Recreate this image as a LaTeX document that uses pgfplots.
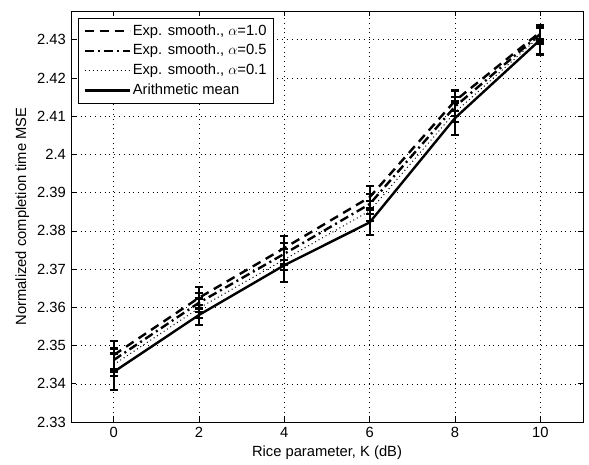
\documentclass[border=0pt]{standalone}
\usepackage{pgfplots}
\pgfplotsset{compat=1.18}
\usepackage{fontspec}
\setmainfont{Liberation Sans}
\begin{document}
\fontsize{14.8}{17}\selectfont
\begin{tikzpicture}
\begin{axis}[
  at={(0,0)}, anchor=south west,
  scale only axis, width=512bp, height=411bp,
  xmin=-1, xmax=11, ymin=2.33, ymax=2.4375,
  xtick={0,2,4,6,8,10},
  ytick={2.33,2.34,2.35,2.36,2.37,2.38,2.39,2.40,2.41,2.42,2.43},
  yticklabels={2.33,2.34,2.35,2.36,2.37,2.38,2.39,2.4,2.41,2.42,2.43},
  /pgf/number format/assume math mode=true,
  tick align=inside, tick pos=both,
  major tick length=5bp,
  every tick/.style={black, line width=0.6bp},
  axis line style={line width=0.8bp},
  grid=major,
  major grid style={black, line width=0.5bp, dash pattern=on 0.8bp off 4bp},
  xlabel={Rice parameter, K (dB)},
  ylabel={Normalized completion time MSE},
  xlabel style={yshift=2bp},
  ylabel style={yshift=-2bp},
  legend cell align=left,
  legend style={at={(0,1)}, anchor=north west, xshift=7bp, yshift=-7bp,
    draw=black, line width=0.8bp, inner xsep=5bp, inner ysep=4bp, row sep=3bp,
    font=\fontsize{14.8}{17}\selectfont},
  legend image code/.code={\draw[#1] (0bp,0bp) -- (45bp,0bp);},
  error bars/error bar style={solid, line width=2.2bp},
  error bars/error mark options={rotate=90, mark size=4bp, line width=2.2bp, solid},
]
\addplot[black, line width=2.4bp, dash pattern=on 9bp off 6bp,
  error bars/.cd, y dir=both, y explicit]
  coordinates {
  (0,2.3475) +- (0,0.0037)
  (2,2.3625) +- (0,0.0028)
  (4,2.3755) +- (0,0.0031)
  (6,2.3888) +- (0,0.0029)
  (8,2.4140) +- (0,0.0027)
  (10,2.4320) +- (0,0.0019)
  };
\addlegendentry{Exp. smooth., $\alpha$=1.0}
\addplot[black, line width=2.4bp, dash pattern=on 9bp off 4bp on 2bp off 4bp,
  error bars/.cd, y dir=both, y explicit]
  coordinates {
  (0,2.3462) +- (0,0.0030)
  (2,2.3612) +- (0,0.0025)
  (4,2.3740) +- (0,0.0028)
  (6,2.3870) +- (0,0.0027)
  (8,2.4125) +- (0,0.0025)
  (10,2.4315) +- (0,0.0020)
  };
\addlegendentry{Exp. smooth., $\alpha$=0.5}
\addplot[black, line width=1bp, dash pattern=on 1bp off 3bp,
  error bars/.cd, y dir=both, y explicit]
  coordinates {
  (0,2.3450) +- (0,0.0030)
  (2,2.3598) +- (0,0.0025)
  (4,2.3725) +- (0,0.0028)
  (6,2.3852) +- (0,0.0027)
  (8,2.4110) +- (0,0.0025)
  (10,2.4310) +- (0,0.0020)
  };
\addlegendentry{Exp. smooth., $\alpha$=0.1}
\addplot[black, line width=2.4bp, solid,
  error bars/.cd, y dir=both, y explicit]
  coordinates {
  (0,2.3431) +- (0,0.0047)
  (2,2.3580) +- (0,0.0027)
  (4,2.3710) +- (0,0.0043)
  (6,2.3822) +- (0,0.0033)
  (8,2.4095) +- (0,0.0044)
  (10,2.4300) +- (0,0.0039)
  };
\addlegendentry{Arithmetic mean}
\end{axis}
\path (-71bp,-39bp) rectangle (518bp,422bp);
\end{tikzpicture}
\end{document}
